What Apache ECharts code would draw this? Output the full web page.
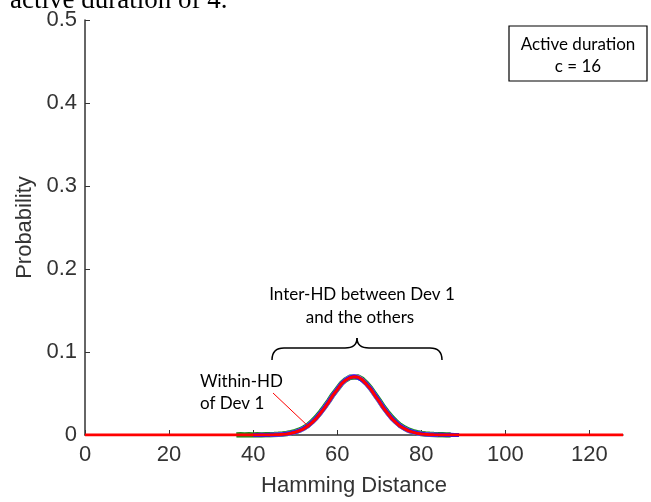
<!DOCTYPE html>
<html>
<head>
<meta charset="utf-8">
<script src="https://cdn.jsdelivr.net/npm/echarts@6/dist/echarts.min.js"></script>
<style>
html,body{margin:0;padding:0;background:#fff;}
#chart{width:651px;height:502px;}
</style>
</head>
<body>
<div id="chart"></div>
<script>
// ---- data ----
const xTicks = [0, 20, 40, 60, 80, 100, 120];
const yTicks = [0, 0.1, 0.2, 0.3, 0.4, 0.5];

// Within-HD of Dev 1 (red), x = 0..128
const redX = [];
for (let i = 0; i <= 128; i++) redX.push(i);
const redY = [
  0,0,0,0,0,0,0,0,0,0, 0,0,0,0,0,0,0,0,0,0,
  0,0,0,0,0,0,0,0,0,0, 0,0,0,0,0,0,0,0,0,0,
  0,0,0,0,0.0001,0.0002,0.0004,0.0008,0.0013,0.0021,
  0.0034,0.0051,0.0075,0.0106,0.0150,0.0198,0.0262,0.0326,0.0400,0.0480,
  0.0545,0.0615,0.0660,0.0690,0.0702,0.0695,0.0664,0.0610,0.0552,0.0475,
  0.0405,0.0325,0.0262,0.0196,0.0150,0.0105,0.0076,0.0049,0.0034,0.0020,
  0.0013,0.0008,0.0004,0.0002,0.0001,0,0,0,0,0,
  0,0,0,0,0,0,0,0,0,0, 0,0,0,0,0,0,0,0,0,0,
  0,0,0,0,0,0,0,0,0,0, 0,0,0,0,0,0,0,0,0
];

// Inter-HD curves (other devices)
const greenX = [36,37,38,39,40,41,42,43,44,45,46,47,48,49,50,51,52,53,54,55,56,57,58,59,60,61,62,63,64,65,66,67,68,69,70,71,72,73,74,75,76,77,78,79,80,81,82,83,84,85,86,87];
const greenY = [0.0000,0.0002,0.0000,0.0003,0.0001,0.0002,0.0001,0.0003,0.0004,0.0005,0.0008,0.0012,0.0018,0.0027,0.0040,0.0058,0.0083,0.0115,0.0160,0.0210,0.0272,0.0338,0.0410,0.0487,0.0552,0.0620,0.0665,0.0695,0.0700,0.0698,0.0670,0.0622,0.0560,0.0488,0.0415,0.0338,0.0272,0.0210,0.0160,0.0115,0.0084,0.0058,0.0040,0.0027,0.0018,0.0012,0.0008,0.0005,0.0003,0.0002,0.0001,0.0000];

const blueX = [40,41,42,43,44,45,46,47,48,49,50,51,52,53,54,55,56,57,58,59,60,61,62,63,64,65,66,67,68,69,70,71,72,73,74,75,76,77,78,79,80,81,82,83,84,85,86,87,88,89];
const blueY = [0.0001,0.0000,0.0002,0.0001,0.0002,0.0003,0.0006,0.0010,0.0015,0.0024,0.0036,0.0054,0.0078,0.0110,0.0153,0.0204,0.0266,0.0332,0.0405,0.0482,0.0550,0.0618,0.0664,0.0693,0.0706,0.0690,0.0660,0.0614,0.0556,0.0482,0.0410,0.0332,0.0266,0.0202,0.0154,0.0110,0.0079,0.0054,0.0037,0.0024,0.0015,0.0010,0.0006,0.0003,0.0002,0.0002,0.0001,0.0002,0.0001,0.0000];

const purpleX = [44,45,46,47,48,49,50,51,52,53,54,55,56,57,58,59,60,61,62,63,64,65,66,67,68,69,70,71,72,73,74,75,76,77,78,79,80,81,82,83,84];
const purpleY = [0.0001,0.0002,0.0005,0.0009,0.0014,0.0022,0.0035,0.0052,0.0077,0.0108,0.0152,0.0201,0.0264,0.0330,0.0404,0.0479,0.0548,0.0616,0.0663,0.0697,0.0708,0.0696,0.0662,0.0612,0.0554,0.0478,0.0407,0.0329,0.0263,0.0199,0.0152,0.0108,0.0077,0.0051,0.0035,0.0022,0.0014,0.0009,0.0005,0.0002,0.0001];

function pairs(xs, ys) { return xs.map((x, i) => [x, ys[i]]); }

const chart = echarts.init(document.getElementById('chart'), null, {renderer: 'canvas'});
const axisFont = 'Liberation Sans';
const noteFont = '17px "Lato"';
const braceStyle = {fill: 'none', stroke: '#000', lineWidth: 1.5};

chart.setOption({
  animation: false,
  backgroundColor: '#ffffff',
  grid: {left: 85, top: 20, right: 28, bottom: 64, containLabel: false},
  xAxis: {
    type: 'value', min: 0, max: 128,
    name: 'Hamming Distance', nameLocation: 'middle', nameGap: 40,
    nameTextStyle: {fontFamily: axisFont, fontSize: 22, color: '#333'},
    axisLine: {show: true, onZero: false, lineStyle: {color: '#333', width: 1.5}},
    axisTick: {show: true, inside: true, length: 5, customValues: xTicks, lineStyle: {color: '#333', width: 1}},
    axisLabel: {customValues: xTicks, margin: 9, fontFamily: axisFont, fontSize: 22, color: '#333'},
    splitLine: {show: false}
  },
  yAxis: {
    type: 'value', min: 0, max: 0.5, interval: 0.1,
    name: 'Probability', nameLocation: 'middle', nameGap: 42, nameRotate: 90,
    nameTextStyle: {fontFamily: axisFont, fontSize: 22, color: '#333'},
    axisLine: {show: true, lineStyle: {color: '#333', width: 1.5}},
    axisTick: {show: true, inside: true, length: 5, lineStyle: {color: '#333', width: 1}},
    axisLabel: {margin: 8, fontFamily: axisFont, fontSize: 22, color: '#333',
      formatter: v => (v === 0 ? '0' : v.toFixed(1))},
    splitLine: {show: false}
  },
  series: [
    {type: 'line', data: pairs(greenX, greenY), showSymbol: false, symbol: 'none',
      lineStyle: {color: '#1e8c1e', width: 5.5}, z: 2},
    {type: 'line', data: pairs(purpleX, purpleY), showSymbol: false, symbol: 'none',
      lineStyle: {color: '#9a6cff', width: 4.5}, z: 3},
    {type: 'line', data: pairs(blueX, blueY), showSymbol: false, symbol: 'none',
      lineStyle: {color: '#1a1aff', width: 4}, z: 4},
    {type: 'line', data: pairs(redX, redY), showSymbol: false, symbol: 'none',
      lineStyle: {color: '#ff0000', width: 3}, z: 5}
  ],
  graphic: [
    {type: 'text', x: 10, y: -13, z: 10,
      style: {text: 'active duration of 4.', font: '27px "Liberation Serif"', fill: '#000'}},
    {type: 'rect', shape: {x: 509, y: 26, width: 138, height: 55}, z: 10,
      style: {fill: '#fff', stroke: '#000', lineWidth: 1.2}},
    {type: 'text', x: 578, y: 45, z: 11,
      style: {text: 'Active duration', font: noteFont, fill: '#000', align: 'center', verticalAlign: 'middle'}},
    {type: 'text', x: 578, y: 67, z: 11,
      style: {text: 'c = 16', font: noteFont, fill: '#000', align: 'center', verticalAlign: 'middle'}},
    {type: 'text', x: 362, y: 295, z: 11,
      style: {text: 'Inter-HD between Dev 1', font: noteFont, fill: '#000', align: 'center', verticalAlign: 'middle'}},
    {type: 'text', x: 360, y: 318, z: 11,
      style: {text: 'and the others', font: noteFont, fill: '#000', align: 'center', verticalAlign: 'middle'}},
    {type: 'bezierCurve', z: 11, shape: {x1: 272, y1: 360, cpx1: 272, cpy1: 348, x2: 284, y2: 348}, style: braceStyle},
    {type: 'line', z: 11, shape: {x1: 284, y1: 348, x2: 345, y2: 348}, style: braceStyle},
    {type: 'bezierCurve', z: 11, shape: {x1: 345, y1: 348, cpx1: 357, cpy1: 348, x2: 357, y2: 338}, style: braceStyle},
    {type: 'bezierCurve', z: 11, shape: {x1: 357, y1: 338, cpx1: 357, cpy1: 348, x2: 369, y2: 348}, style: braceStyle},
    {type: 'line', z: 11, shape: {x1: 369, y1: 348, x2: 430, y2: 348}, style: braceStyle},
    {type: 'bezierCurve', z: 11, shape: {x1: 430, y1: 348, cpx1: 442, cpy1: 348, x2: 442, y2: 360}, style: braceStyle},
    {type: 'text', x: 200, y: 382, z: 11,
      style: {text: 'Within-HD', font: noteFont, fill: '#000', align: 'left', verticalAlign: 'middle'}},
    {type: 'text', x: 200, y: 404, z: 11,
      style: {text: 'of Dev 1', font: noteFont, fill: '#000', align: 'left', verticalAlign: 'middle'}},
    {type: 'line', z: 11, shape: {x1: 273, y1: 393, x2: 309, y2: 427},
      style: {stroke: '#ff0000', lineWidth: 1}}
  ]
});
</script>
</body>
</html>
